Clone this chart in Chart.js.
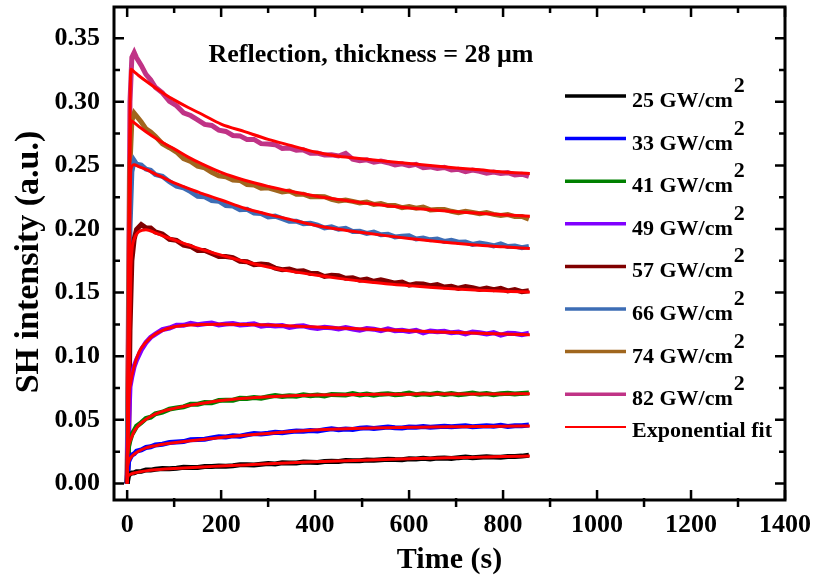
<!DOCTYPE html>
<html>
<head>
<meta charset="utf-8">
<script src="https://cdn.jsdelivr.net/npm/chart.js@4.4.0/dist/chart.umd.min.js"></script>
<style>
  html, body { margin: 0; padding: 0; background: #fff; }
</style>
</head>
<body>
<canvas id="myChart" width="816" height="581"></canvas>
<script>
// Time axis for the measured traces (s)
const time = [0, 3, 6, 10, 15, 20, 30, 40, 50, 60,
  75, 90, 105, 120, 135, 150, 165, 180, 195, 210,
  225, 240, 255, 270, 285, 300, 315, 330, 345, 360,
  375, 390, 405, 420, 435, 450, 465, 480, 495, 510,
  525, 540, 555, 570, 585, 600, 615, 630, 645, 660,
  675, 690, 705, 720, 735, 750, 765, 780, 795, 810,
  825, 840, 855];

// Measured SH intensity (a.u.), one array per pump intensity
const s25 = [0.000, 0.0062, 0.0074, 0.0083, 0.0084, 0.0093, 0.0095, 0.0106, 0.0105, 0.0112,
  0.0117, 0.0115, 0.0120, 0.0127, 0.0125, 0.0126, 0.0133, 0.0134, 0.0137, 0.0135,
  0.0140, 0.0147, 0.0148, 0.0145, 0.0151, 0.0156, 0.0153, 0.0162, 0.0161, 0.0161,
  0.0168, 0.0166, 0.0165, 0.0173, 0.0174, 0.0173, 0.0181, 0.0179, 0.0178, 0.0184,
  0.0182, 0.0187, 0.0191, 0.0188, 0.0187, 0.0194, 0.0193, 0.0198, 0.0192, 0.0199,
  0.0201, 0.0197, 0.0203, 0.0207, 0.0202, 0.0206, 0.0210, 0.0207, 0.0206, 0.0212,
  0.0211, 0.0215, 0.0222];
const s33 = [0.000, 0.0170, 0.0197, 0.0223, 0.0233, 0.0254, 0.0264, 0.0283, 0.0288, 0.0303,
  0.0308, 0.0322, 0.0325, 0.0329, 0.0344, 0.0346, 0.0347, 0.0358, 0.0368, 0.0366,
  0.0375, 0.0372, 0.0383, 0.0392, 0.0388, 0.0394, 0.0402, 0.0399, 0.0406, 0.0413,
  0.0410, 0.0417, 0.0413, 0.0422, 0.0429, 0.0423, 0.0428, 0.0424, 0.0434, 0.0437,
  0.0432, 0.0438, 0.0444, 0.0438, 0.0436, 0.0444, 0.0442, 0.0448, 0.0442, 0.0446,
  0.0450, 0.0445, 0.0449, 0.0453, 0.0446, 0.0450, 0.0453, 0.0450, 0.0457, 0.0448,
  0.0454, 0.0454, 0.0459];
const s41 = [0.000, 0.0290, 0.0338, 0.0384, 0.0417, 0.0450, 0.0478, 0.0511, 0.0521, 0.0548,
  0.0560, 0.0584, 0.0594, 0.0602, 0.0622, 0.0623, 0.0636, 0.0634, 0.0652, 0.0655,
  0.0655, 0.0670, 0.0668, 0.0676, 0.0670, 0.0682, 0.0691, 0.0683, 0.0689, 0.0685,
  0.0697, 0.0690, 0.0696, 0.0687, 0.0700, 0.0698, 0.0696, 0.0706, 0.0696, 0.0703,
  0.0694, 0.0702, 0.0706, 0.0698, 0.0701, 0.0710, 0.0698, 0.0705, 0.0700, 0.0708,
  0.0700, 0.0707, 0.0698, 0.0704, 0.0710, 0.0702, 0.0707, 0.0698, 0.0706, 0.0709,
  0.0703, 0.0708, 0.0711];
const s49 = [0.000, 0.0450, 0.0760, 0.0840, 0.0921, 0.0971, 0.1050, 0.1107, 0.1149, 0.1174,
  0.1209, 0.1222, 0.1244, 0.1243, 0.1259, 0.1247, 0.1256, 0.1261, 0.1246, 0.1253,
  0.1257, 0.1245, 0.1249, 0.1255, 0.1237, 0.1244, 0.1237, 0.1242, 0.1227, 0.1236,
  0.1239, 0.1225, 0.1219, 0.1228, 0.1223, 0.1215, 0.1225, 0.1214, 0.1204, 0.1217,
  0.1213, 0.1201, 0.1215, 0.1201, 0.1204, 0.1194, 0.1204, 0.1183, 0.1199, 0.1193,
  0.1196, 0.1184, 0.1190, 0.1176, 0.1191, 0.1184, 0.1175, 0.1185, 0.1166, 0.1180,
  0.1179, 0.1170, 0.1180];
const s57 = [0.000, 0.0300, 0.1200, 0.1750, 0.1921, 0.1996, 0.2035, 0.2010, 0.2008, 0.1977,
  0.1960, 0.1919, 0.1911, 0.1874, 0.1863, 0.1831, 0.1831, 0.1808, 0.1784, 0.1784,
  0.1775, 0.1747, 0.1743, 0.1719, 0.1724, 0.1719, 0.1693, 0.1680, 0.1685, 0.1668,
  0.1671, 0.1651, 0.1651, 0.1627, 0.1636, 0.1633, 0.1613, 0.1616, 0.1598, 0.1606,
  0.1589, 0.1600, 0.1588, 0.1575, 0.1583, 0.1559, 0.1570, 0.1568, 0.1555, 0.1563,
  0.1544, 0.1550, 0.1534, 0.1547, 0.1538, 0.1525, 0.1535, 0.1523, 0.1534, 0.1514,
  0.1524, 0.1507, 0.1515];
const s66 = [0.000, 0.0900, 0.2000, 0.2450, 0.2538, 0.2510, 0.2503, 0.2471, 0.2461, 0.2428,
  0.2414, 0.2372, 0.2337, 0.2324, 0.2294, 0.2258, 0.2254, 0.2223, 0.2219, 0.2185,
  0.2181, 0.2152, 0.2155, 0.2126, 0.2121, 0.2094, 0.2101, 0.2081, 0.2061, 0.2061,
  0.2042, 0.2046, 0.2031, 0.2008, 0.2017, 0.1998, 0.2006, 0.1981, 0.1982, 0.1965,
  0.1976, 0.1955, 0.1959, 0.1938, 0.1944, 0.1946, 0.1922, 0.1929, 0.1915, 0.1921,
  0.1902, 0.1912, 0.1896, 0.1897, 0.1879, 0.1890, 0.1881, 0.1868, 0.1883, 0.1862,
  0.1866, 0.1853, 0.1863];
const s74 = [0.000, 0.1200, 0.2500, 0.2850, 0.2910, 0.2887, 0.2841, 0.2787, 0.2762, 0.2729,
  0.2671, 0.2639, 0.2605, 0.2553, 0.2531, 0.2494, 0.2481, 0.2446, 0.2418, 0.2411,
  0.2385, 0.2382, 0.2350, 0.2346, 0.2320, 0.2324, 0.2308, 0.2291, 0.2298, 0.2273,
  0.2274, 0.2253, 0.2255, 0.2254, 0.2233, 0.2221, 0.2228, 0.2217, 0.2204, 0.2212,
  0.2193, 0.2201, 0.2184, 0.2185, 0.2168, 0.2177, 0.2163, 0.2172, 0.2150, 0.2154,
  0.2154, 0.2139, 0.2129, 0.2139, 0.2131, 0.2120, 0.2130, 0.2115, 0.2107, 0.2114,
  0.2098, 0.2099, 0.2078];
const s82 = [0.000, 0.1500, 0.3000, 0.3350, 0.3388, 0.3346, 0.3286, 0.3215, 0.3173, 0.3114,
  0.3070, 0.3004, 0.2969, 0.2913, 0.2892, 0.2858, 0.2822, 0.2814, 0.2777, 0.2767,
  0.2735, 0.2732, 0.2704, 0.2704, 0.2671, 0.2669, 0.2663, 0.2634, 0.2637, 0.2619,
  0.2622, 0.2596, 0.2597, 0.2581, 0.2584, 0.2574, 0.2595, 0.2549, 0.2537, 0.2544,
  0.2525, 0.2534, 0.2521, 0.2503, 0.2513, 0.2497, 0.2508, 0.2482, 0.2488, 0.2475,
  0.2484, 0.2464, 0.2469, 0.2450, 0.2463, 0.2454, 0.2438, 0.2448, 0.2436, 0.2443,
  0.2425, 0.2431, 0.2413];

// Exponential fit curves
const fitTime = [0, 3, 8, 15, 25, 40, 60, 80, 100, 130, 160, 200, 250, 300, 350, 400, 450, 500, 550, 600, 650, 700, 750, 800, 857];
const fit25 = [0.004, 0.0063, 0.0073, 0.0082, 0.009, 0.0099, 0.0107, 0.0113, 0.0118, 0.0124, 0.013, 0.0137, 0.0146, 0.0155, 0.0163, 0.017, 0.0177, 0.0183, 0.0189, 0.0194, 0.0199, 0.0203, 0.0207, 0.0211, 0.0215];
const fit33 = [0.012, 0.017, 0.0205, 0.023, 0.0255, 0.028, 0.0297, 0.031, 0.032, 0.0334, 0.0346, 0.0362, 0.0378, 0.0393, 0.0408, 0.042, 0.0428, 0.0434, 0.0438, 0.0441, 0.0444, 0.0446, 0.0448, 0.045, 0.0452];
const fit41 = [0.02, 0.029, 0.035, 0.041, 0.046, 0.0505, 0.0545, 0.0572, 0.059, 0.0613, 0.063, 0.0652, 0.067, 0.0682, 0.069, 0.0695, 0.0698, 0.07, 0.0701, 0.0702, 0.0703, 0.0703, 0.0704, 0.0704, 0.0705];
const fit49 = [0.005, 0.06, 0.08, 0.092, 0.103, 0.111, 0.1175, 0.121, 0.1232, 0.1245, 0.125, 0.1252, 0.125, 0.1245, 0.1238, 0.123, 0.1222, 0.1214, 0.1207, 0.12, 0.1193, 0.1186, 0.118, 0.1174, 0.1168];
const fit57 = [0.0, 0.05, 0.17, 0.192, 0.198, 0.1995, 0.197, 0.194, 0.1915, 0.1875, 0.1838, 0.1795, 0.1745, 0.1702, 0.1667, 0.1638, 0.1612, 0.159, 0.157, 0.1555, 0.154, 0.1528, 0.1518, 0.151, 0.1505];
const fit66 = [0.0, 0.1, 0.247, 0.2505, 0.249, 0.2468, 0.2432, 0.2398, 0.2362, 0.232, 0.2278, 0.2228, 0.2163, 0.2115, 0.2072, 0.203, 0.1998, 0.1972, 0.1948, 0.1925, 0.1905, 0.1888, 0.1872, 0.186, 0.1847];
const fit74 = [0.0, 0.15, 0.285, 0.2835, 0.2805, 0.2765, 0.2715, 0.267, 0.263, 0.2565, 0.251, 0.2445, 0.2383, 0.2335, 0.2295, 0.226, 0.2232, 0.2207, 0.2185, 0.2166, 0.215, 0.2135, 0.2123, 0.2112, 0.2101];
const fit82 = [0.0, 0.17, 0.3255, 0.3235, 0.3205, 0.3163, 0.311, 0.306, 0.3015, 0.2955, 0.29, 0.2825, 0.2765, 0.2705, 0.2655, 0.2605, 0.2572, 0.2552, 0.2533, 0.2515, 0.2497, 0.248, 0.2465, 0.2449, 0.2437];

const intensities = ['25', '33', '41', '49', '57', '66', '74', '82'];
const seriesValues = [s25, s33, s41, s49, s57, s66, s74, s82];
const fitValues = [fit25, fit33, fit41, fit49, fit57, fit66, fit74, fit82];
const seriesColors = ['#000000', '#0000FF', '#008000', '#8000FF', '#800000', '#3D6DB5', '#A0661E', '#C03386'];
const fitColor = '#FF0000';

const xTicks = [0, 200, 400, 600, 800, 1000, 1200, 1400];
const yTicks = [0, 0.05, 0.10, 0.15, 0.20, 0.25, 0.30, 0.35];

const serif = '"Times New Roman", "Liberation Serif", serif';

function toPoints(xs, ys) {
    return xs.map(function(x, i) { return { x: x, y: ys[i] }; });
}

let datasets = [];
seriesValues.forEach(function(vals, i) {
    datasets.push({
        label: intensities[i] + ' GW/cm2',
        data: toPoints(time, vals),
        borderColor: seriesColors[i],
        borderWidth: 5,
        pointRadius: 0,
        tension: 0,
        order: 2
    });
});
fitValues.forEach(function(vals, i) {
    datasets.push({
        label: 'Exponential fit',
        data: toPoints(fitTime, vals),
        borderColor: fitColor,
        borderWidth: 3,
        pointRadius: 0,
        cubicInterpolationMode: 'monotone',
        order: 1
    });
});

// Box frame with inward ticks (Origin style)
const frameTicks = {
    id: 'frameTicks',
    afterDraw(chart) {
        const ctx = chart.ctx, a = chart.chartArea;
        const xs = chart.scales.x, ys = chart.scales.y;
        ctx.save();
        ctx.strokeStyle = '#000';
        ctx.lineWidth = 2.5;
        ctx.beginPath();
        xTicks.forEach(function(v, i) {
            const px = xs.getPixelForValue(v);
            ctx.moveTo(px, a.bottom); ctx.lineTo(px, a.bottom - 10);
            ctx.moveTo(px, a.top); ctx.lineTo(px, a.top + 10);
            if (i < xTicks.length - 1) {
                const pm = xs.getPixelForValue((v + xTicks[i + 1]) / 2);
                ctx.moveTo(pm, a.bottom - 2); ctx.lineTo(pm, a.bottom + 7);
                ctx.moveTo(pm, a.top); ctx.lineTo(pm, a.top + 6);
            }
        });
        yTicks.forEach(function(v, i) {
            const py = ys.getPixelForValue(v);
            ctx.moveTo(a.left, py); ctx.lineTo(a.left + 10, py);
            ctx.moveTo(a.right, py); ctx.lineTo(a.right - 10, py);
            if (i < yTicks.length - 1) {
                const pm = ys.getPixelForValue((v + yTicks[i + 1]) / 2);
                ctx.moveTo(a.left, pm); ctx.lineTo(a.left + 6, pm);
                ctx.moveTo(a.right, pm); ctx.lineTo(a.right - 6, pm);
            }
        });
        ctx.stroke();
        ctx.lineWidth = 3;
        ctx.strokeRect(a.left, a.top, a.right - a.left, a.bottom - a.top);
        ctx.restore();
    }
};

// Legend with superscript units, the inner title and the y axis title
const sideLegend = {
    id: 'sideLegend',
    afterDraw(chart) {
        const ctx = chart.ctx;
        ctx.save();
        ctx.fillStyle = '#000';
        ctx.font = 'bold 26px ' + serif;
        ctx.textAlign = 'center';
        ctx.textBaseline = 'alphabetic';
        ctx.fillText('Reflection, thickness = 28 \u03BCm', 371, 62);

        ctx.save();
        ctx.translate(38, 262);
        ctx.rotate(-Math.PI / 2);
        ctx.font = 'bold 34px ' + serif;
        ctx.fillText('SH intensity (a.u.)', 0, 0);
        ctx.restore();

        ctx.textAlign = 'left';
        ctx.font = 'bold 22px ' + serif;
        intensities.forEach(function(lab, i) {
            const y = 96 + i * 42.6;
            ctx.strokeStyle = seriesColors[i];
            ctx.lineWidth = 3.5;
            ctx.beginPath(); ctx.moveTo(565, y); ctx.lineTo(626, y); ctx.stroke();
            const txt = lab + ' GW/cm';
            ctx.fillText(txt, 632, y + 11);
            ctx.fillText('2', 632 + ctx.measureText(txt).width + 1, y - 4);
        });
        const yf = 427;
        ctx.strokeStyle = fitColor;
        ctx.lineWidth = 2;
        ctx.beginPath(); ctx.moveTo(565, yf); ctx.lineTo(626, yf); ctx.stroke();
        ctx.fillText('Exponential fit', 632, yf + 10);
        ctx.restore();
    }
};

const ctx = document.getElementById('myChart').getContext('2d');
const chart = new Chart(ctx, {
    type: 'line',
    data: { datasets: datasets },
    options: {
        responsive: false,
        animation: false,
        layout: { padding: { top: 7, right: 31, left: 0, bottom: 0 } },
        plugins: { legend: { display: false }, tooltip: { enabled: false } },
        scales: {
            x: {
                type: 'linear',
                min: -28,
                max: 1400,
                grid: { display: false, drawTicks: false },
                border: { display: false },
                afterBuildTicks: function(s) { s.ticks = xTicks.map(function(v) { return { value: v }; }); },
                ticks: {
                    color: '#000',
                    font: { family: serif, size: 26, weight: 'bold' },
                    padding: 10,
                    maxRotation: 0,
                    autoSkip: false,
                    callback: function(v) { return String(v); }
                },
                title: {
                    display: true,
                    text: 'Time (s)',
                    color: '#000',
                    font: { family: serif, size: 30, weight: 'bold' },
                    padding: { top: 0, bottom: 3 }
                },
                afterFit: function(s) {
                    s.height = 81;
                    s.paddingLeft = 0;
                    s.paddingRight = 0;
                }
            },
            y: {
                type: 'linear',
                min: -0.013,
                max: 0.3745,
                grid: { display: false, drawTicks: false },
                border: { display: false },
                afterBuildTicks: function(s) { s.ticks = yTicks.map(function(v) { return { value: v }; }); },
                ticks: {
                    color: '#000',
                    font: { family: serif, size: 26, weight: 'bold' },
                    padding: 14,
                    autoSkip: false,
                    callback: function(v) { return Number(v).toFixed(2); }
                },
                title: { display: false },
                afterFit: function(s) {
                    s.width = 114;
                    s.paddingTop = 0;
                    s.paddingBottom = 0;
                }
            }
        }
    },
    plugins: [frameTicks, sideLegend]
});
</script>
</body>
</html>
